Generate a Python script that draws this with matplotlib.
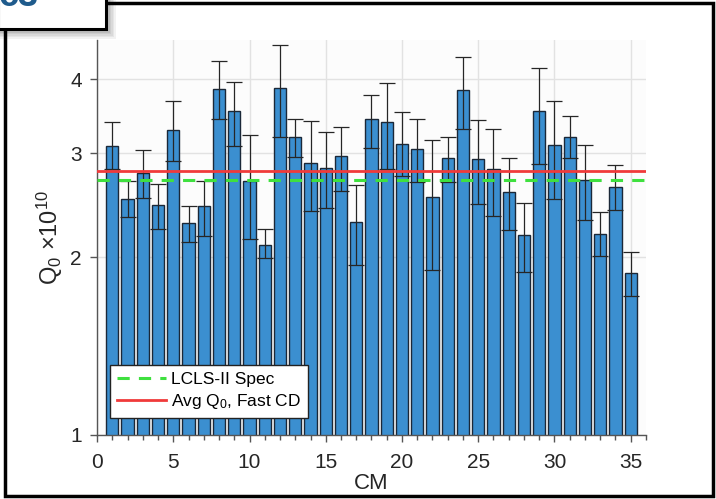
import matplotlib
matplotlib.use("Agg")
import matplotlib.pyplot as plt
from matplotlib.patches import Rectangle
from matplotlib.ticker import FixedLocator, MultipleLocator, NullFormatter
import numpy as np

plt.rcParams['font.family'] = ['Liberation Sans', 'DejaVu Sans']
plt.rcParams['mathtext.fontset'] = 'custom'
plt.rcParams['mathtext.rm'] = 'Liberation Sans'
plt.rcParams['mathtext.it'] = 'Liberation Sans'

# Cryomodule numbers and measured Q0 (in units of 1e10)
cm = list(range(1, 36))
q0 = [3.08, 2.51, 2.78, 2.45, 3.28, 2.28, 2.44, 3.85, 3.53, 2.69,
      2.10, 3.87, 3.19, 2.89, 2.83, 2.96, 2.29, 3.42, 3.38, 3.11,
      3.05, 2.53, 2.94, 3.83, 2.93, 2.82, 2.58, 2.18, 3.53, 3.09,
      3.19, 2.70, 2.19, 2.63, 1.88]
q0_hi = [3.38, 2.69, 3.03, 2.66, 3.67, 2.44, 2.69, 4.30, 3.96, 3.22,
         2.23, 4.57, 3.43, 3.40, 3.25, 3.32, 2.65, 3.76, 3.94, 3.52,
         3.43, 3.16, 3.19, 4.36, 3.41, 3.29, 2.94, 2.47, 4.18, 3.68,
         3.47, 3.09, 2.38, 2.86, 2.04]
q0_lo = [2.82, 2.34, 2.52, 2.23, 2.91, 2.12, 2.17, 3.42, 3.08, 2.15,
         1.99, 3.19, 2.95, 2.39, 2.42, 2.59, 1.94, 3.06, 2.82, 2.74,
         2.68, 1.90, 2.68, 3.30, 2.46, 2.35, 2.22, 1.89, 2.88, 2.51,
         2.94, 2.31, 2.01, 2.40, 1.72]

spec_q0 = 2.7
avg_q0 = 2.8

x_ticks = [0, 5, 10, 15, 20, 25, 30, 35]
y_ticks = [1, 2, 3, 4]

fig = plt.figure(figsize=(7.16, 4.99), dpi=100)
ax = fig.add_axes([0.1355, 0.1283, 0.7667, 0.7915])
ax.set_facecolor('#fcfcfc')

ax.set_yscale('log')
ax.set_xlim(0, 36)
ax.set_ylim(1, 4.66)

q0_arr = np.array(q0)
yerr = np.vstack([q0_arr - np.array(q0_lo), np.array(q0_hi) - q0_arr])

ax.bar(cm, q0, width=0.8, bottom=0, color='#3b8fd0', edgecolor='#1b2838',
       linewidth=1.0, zorder=2)
ax.errorbar(cm, q0, yerr=yerr, fmt='none', ecolor='#262626', elinewidth=0.9,
            capsize=6, capthick=0.9, zorder=3)

ax.axhline(spec_q0, color='#3fe03f', linestyle=(0, (4, 3)), linewidth=2.2,
           zorder=4, label='LCLS-II Spec')
ax.axhline(avg_q0, color='#f03a3a', linewidth=2.0, zorder=4,
           label='Avg Q$_0$, Fast CD')

ax.yaxis.set_major_locator(FixedLocator(y_ticks))
ax.yaxis.set_minor_locator(FixedLocator([]))
ax.yaxis.set_minor_formatter(NullFormatter())
ax.set_yticklabels([str(t) for t in y_ticks])
ax.xaxis.set_major_locator(FixedLocator(x_ticks))
ax.xaxis.set_minor_locator(MultipleLocator(1))

ax.grid(True, which='major', color='#e2e2e2', linewidth=1.0, zorder=0)
ax.set_axisbelow(True)

for side in ('top', 'right'):
    ax.spines[side].set_visible(False)
for side in ('left', 'bottom'):
    ax.spines[side].set_color('#555555')
    ax.spines[side].set_linewidth(1.0)

ax.tick_params(axis='both', which='major', direction='out', length=5,
               width=1.0, color='#555555', labelsize=15, labelcolor='#262626')
ax.tick_params(axis='x', which='major', pad=8)
ax.tick_params(axis='y', which='major', pad=6)
ax.tick_params(axis='x', which='minor', direction='out', length=3.5,
               width=1.0, color='#555555')

ax.set_xlabel('CM', fontsize=16, color='#262626', labelpad=1)
ax.set_ylabel(r'Q$_0$ $\times$10$^{10}$', fontsize=17, color='#262626',
              labelpad=4)

leg = ax.legend(loc='lower left', bbox_to_anchor=(0.024, 0.043),
                borderaxespad=0, fontsize=12.5, frameon=True, fancybox=False,
                edgecolor='#222222', framealpha=1.0, handlelength=2.8,
                handletextpad=0.3, borderpad=0.4, labelspacing=0.3)
leg.get_frame().set_linewidth(1.0)

# outer frame of the panel
fig.patches.append(Rectangle((5 / 716, 3 / 499), 708 / 716, 493 / 499,
                             transform=fig.transFigure, fill=False,
                             edgecolor='black', linewidth=2.5, zorder=10))

# panel tag box with a soft drop shadow
for i, a in enumerate([0.05, 0.05, 0.05, 0.06, 0.07, 0.08]):
    off = (10 - i * 1.6)
    fig.patches.append(Rectangle((-2 / 716, (499 - 29 - off) / 499),
                                 (108 + off) / 716, (40) / 499,
                                 transform=fig.transFigure, facecolor='black',
                                 edgecolor='none', alpha=a, zorder=11))
fig.patches.append(Rectangle((-2 / 716, (499 - 29) / 499), 108 / 716, 40 / 499,
                             transform=fig.transFigure, facecolor='white',
                             edgecolor='black', linewidth=2.2, zorder=12))
fig.text(-0.002, 1 - 6 / 499, 'c3', fontsize=26, fontweight='bold',
         color='#1f5b8c', ha='left', va='baseline', zorder=13)

fig.savefig('out.png', dpi=100)
